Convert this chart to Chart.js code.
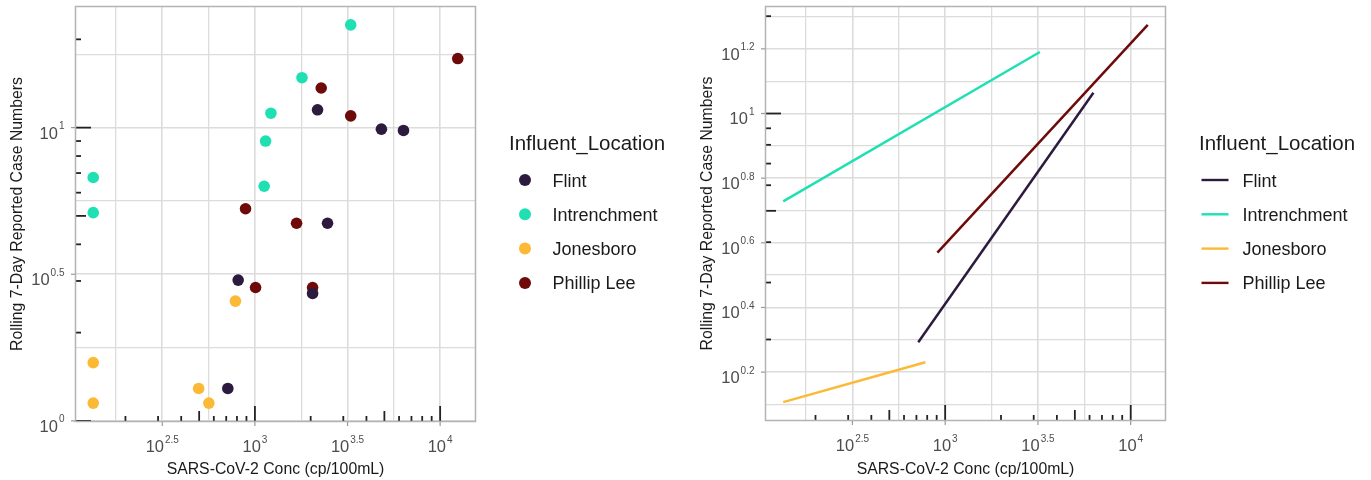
<!DOCTYPE html>
<html>
<head>
<meta charset="utf-8">
<script src="https://cdn.jsdelivr.net/npm/chart.js@4.4.1/dist/chart.umd.min.js"></script>
<style>
  html, body { margin: 0; padding: 0; background: #ffffff; }
  #wrap { position: relative; width: 1371px; height: 480px; overflow: hidden; }
  .panel { position: absolute; top: 0; height: 480px; }
  canvas { display: block; }
</style>
</head>
<body>
<div id="wrap">
  <div class="panel" style="left:0;width:685px"><canvas id="scatter" width="685" height="480"></canvas></div>
  <div class="panel" style="left:685px;width:686px"><canvas id="fits" width="686" height="480"></canvas></div>
</div>
<script>
// ---- data -------------------------------------------------------------
const locations = ['Flint', 'Intrenchment', 'Jonesboro', 'Phillip Lee'];
const locationColors = ['#2d1b3f', '#1fe0b3', '#fcb935', '#6e0a0a'];

// SARS-CoV-2 concentration (cp/100mL) and rolling 7-day case numbers per site
const flintConc = [714, 812, 2048, 2178, 2466, 4818, 6340];
const flintCases = [1.29, 3.02, 2.72, 11.5, 4.72, 9.88, 9.78];
const intrenchmentConc = [134, 134, 1122, 1142, 1220, 1795, 3290];
const intrenchmentCases = [6.76, 5.13, 6.31, 9.0, 11.2, 14.8, 22.4];
const jonesboroConc = [134, 134, 497, 564, 785];
const jonesboroCases = [1.58, 1.15, 1.29, 1.15, 2.56];
const phillipLeeConc = [890, 1008, 1678, 2048, 2280, 3290, 12450];
const phillipLeeCases = [5.29, 2.85, 4.72, 2.85, 13.65, 10.97, 17.2];

// fitted log-log trend per site: start and end of each fitted line
const flintFitConc = [716, 6295];
const flintFitCases = [1.96, 11.6];
const intrenchmentFitConc = [134, 3240];
const intrenchmentFitCases = [5.35, 15.5];
const jonesboroFitConc = [134, 782];
const jonesboroFitCases = [1.28, 1.70];
const phillipLeeFitConc = [908, 12360];
const phillipLeeFitCases = [3.71, 18.8];

// axis label exponents (10^e) and gridline exponents
const xLabelExps = [2.5, 3, 3.5, 4];
const xGridExps = [2.25, 2.5, 2.75, 3, 3.25, 3.5, 3.75, 4];
const yLabelExpsScatter = [0, 0.5, 1];
const yGridExpsScatter = [0, 0.25, 0.5, 0.75, 1, 1.25];
const yLabelExpsFits = [0.2, 0.4, 0.6, 0.8, 1, 1.2];
const yGridExpsFits = [0.1, 0.2, 0.3, 0.4, 0.5, 0.6, 0.7, 0.8, 0.9, 1, 1.1, 1.2, 1.3];

// log tick marks along the bottom and left edges
const logTickDecades = [0, 1, 2, 3, 4];
const logTickMultipliers = [1, 2, 3, 4, 5, 6, 7, 8, 9];

const xTitle = 'SARS-CoV-2 Conc (cp/100mL)';
const yTitle = 'Rolling 7-Day Reported Case Numbers';
const legendTitle = 'Influent_Location';

// ---- helpers ----------------------------------------------------------
const FONT = '"Liberation Sans", Arial, sans-serif';

function pts(xs, ys) { return xs.map((x, i) => ({ x: x, y: ys[i] })); }

// ggplot-style range: data span widened by 5% on each side (log space)
function logLimits(arrays) {
  const logs = [].concat(...arrays).map(v => Math.log10(v));
  const lo = Math.min(...logs), hi = Math.max(...logs);
  const pad = (hi - lo) * 0.05;
  return [Math.pow(10, lo - pad), Math.pow(10, hi + pad)];
}

function logAxis(limits, gridExps, majorExps, horizontal) {
  return {
    type: 'logarithmic',
    min: limits[0],
    max: limits[1],
    afterBuildTicks: (scale) => {
      scale.ticks = gridExps.map(e => ({ value: Math.pow(10, e), major: majorExps.includes(e) }));
    },
    afterFit: (scale) => { if (horizontal) scale.height = 0; else scale.width = 0; },
    ticks: { display: false },
    border: { display: false },
    grid: {
      drawTicks: false,
      color: '#dcdcdc',
      lineWidth: (c) => (c.tick && c.tick.major) ? 1.6 : 1.3
    }
  };
}

function fmtExp(e) { return String(Math.round(e * 10) / 10); }

function drawPower(ctx, x, baseY, supY, exp, align) {
  ctx.font = '16.5px ' + FONT;
  const wb = ctx.measureText('10').width;
  ctx.font = '10px ' + FONT;
  const txt = fmtExp(exp);
  const ws = ctx.measureText(txt).width;
  const total = wb + 1 + ws;
  const x0 = align === 'center' ? x - total / 2 : x - total;
  ctx.textAlign = 'left';
  ctx.textBaseline = 'alphabetic';
  ctx.fillStyle = '#4d4d4d';
  ctx.font = '16.5px ' + FONT;
  ctx.fillText('10', x0, baseY);
  ctx.font = '10px ' + FONT;
  ctx.fillText(txt, x0 + wb + 1, supY);
}

// panel frame, log ticks, axis labels, titles and legend
const panelDecor = {
  id: 'panelDecor',
  afterDraw(chart, args, opts) {
    const ctx = chart.ctx;
    const a = chart.chartArea;
    const xs = chart.scales.x, ys = chart.scales.y;
    ctx.save();

    // log tick marks
    ctx.strokeStyle = '#222222';
    ctx.lineWidth = 1.8;
    for (const d of logTickDecades) {
      for (const m of logTickMultipliers) {
        const v = m * Math.pow(10, d);
        const len = m === 1 ? 16 : (m === 5 ? 11 : 6);
        if (v >= xs.min && v <= xs.max) {
          const px = xs.getPixelForValue(v);
          ctx.beginPath(); ctx.moveTo(px, a.bottom); ctx.lineTo(px, a.bottom - len); ctx.stroke();
        }
        if (v >= ys.min && v <= ys.max) {
          const py = ys.getPixelForValue(v);
          ctx.beginPath(); ctx.moveTo(a.left, py); ctx.lineTo(a.left + len, py); ctx.stroke();
        }
      }
    }

    // panel border
    ctx.strokeStyle = '#b3b3b3';
    ctx.lineWidth = 1.5;
    ctx.strokeRect(a.left + 0.5, a.top + 0.5, a.right - a.left - 1, a.bottom - a.top - 1);

    // axis ticks and labels
    ctx.strokeStyle = '#9a9a9a';
    ctx.lineWidth = 1.2;
    for (const e of xLabelExps) {
      const px = xs.getPixelForValue(Math.pow(10, e));
      ctx.beginPath(); ctx.moveTo(px, a.bottom); ctx.lineTo(px, a.bottom + 4); ctx.stroke();
      drawPower(ctx, px, a.bottom + 30, a.bottom + 21, e, 'center');
    }
    for (const e of opts.yLabels) {
      const py = ys.getPixelForValue(Math.pow(10, e));
      ctx.beginPath(); ctx.moveTo(a.left - 4, py); ctx.lineTo(a.left, py); ctx.stroke();
      drawPower(ctx, a.left - 10.5, py + 11, py + 1.5, e, 'right');
    }

    // axis titles
    ctx.fillStyle = '#1a1a1a';
    ctx.font = '15.8px ' + FONT;
    ctx.textAlign = 'center';
    ctx.textBaseline = 'alphabetic';
    ctx.fillText(xTitle, (a.left + a.right) / 2, 474);
    ctx.save();
    ctx.translate(a.left - 57, (a.top + a.bottom) / 2);
    ctx.rotate(-Math.PI / 2);
    ctx.textBaseline = 'middle';
    ctx.fillText(yTitle, 0, 0);
    ctx.restore();

    // legend
    const lx = a.right;
    ctx.textAlign = 'left';
    ctx.textBaseline = 'alphabetic';
    ctx.fillStyle = '#1a1a1a';
    ctx.font = '20.5px ' + FONT;
    ctx.fillText(legendTitle, lx + 33, 150);
    chart.data.datasets.forEach((ds, i) => {
      const ry = 180 + i * 34.3;
      if (opts.legendKind === 'point') {
        ctx.fillStyle = ds.backgroundColor;
        ctx.beginPath(); ctx.arc(lx + 49, ry, 6, 0, Math.PI * 2); ctx.fill();
      } else {
        ctx.strokeStyle = ds.borderColor;
        ctx.lineWidth = 2.4;
        ctx.beginPath(); ctx.moveTo(lx + 35.5, ry); ctx.lineTo(lx + 62.5, ry); ctx.stroke();
      }
      ctx.fillStyle = '#1a1a1a';
      ctx.font = '18px ' + FONT;
      ctx.fillText(ds.label, lx + 76.5, ry + 6.5);
    });

    ctx.restore();
  }
};

const commonPlugins = { legend: { display: false }, tooltip: { enabled: false } };

// ---- left panel: observations ------------------------------------------
const scatterConc = [flintConc, intrenchmentConc, jonesboroConc, phillipLeeConc];
const scatterCases = [flintCases, intrenchmentCases, jonesboroCases, phillipLeeCases];

new Chart(document.getElementById('scatter'), {
  type: 'scatter',
  data: {
    datasets: locations.map((name, i) => ({
      label: name,
      data: pts(scatterConc[i], scatterCases[i]),
      backgroundColor: locationColors[i],
      borderWidth: 0,
      pointRadius: 5.8
    }))
  },
  options: {
    responsive: false,
    animation: false,
    devicePixelRatio: 1,
    layout: { padding: { left: 75, right: 209, top: 6, bottom: 58 } },
    scales: {
      x: logAxis(logLimits(scatterConc), xGridExps, xLabelExps, true),
      y: logAxis(logLimits(scatterCases), yGridExpsScatter, yLabelExpsScatter, false)
    },
    plugins: Object.assign({}, commonPlugins, {
      panelDecor: { yLabels: yLabelExpsScatter, legendKind: 'point' }
    })
  },
  plugins: [panelDecor]
});

// ---- right panel: fitted trends ----------------------------------------
const fitConc = [flintFitConc, intrenchmentFitConc, jonesboroFitConc, phillipLeeFitConc];
const fitCases = [flintFitCases, intrenchmentFitCases, jonesboroFitCases, phillipLeeFitCases];

new Chart(document.getElementById('fits'), {
  type: 'scatter',
  data: {
    datasets: locations.map((name, i) => ({
      label: name,
      data: pts(fitConc[i], fitCases[i]),
      showLine: true,
      borderColor: locationColors[i],
      backgroundColor: locationColors[i],
      borderWidth: 2.5,
      pointRadius: 0
    }))
  },
  options: {
    responsive: false,
    animation: false,
    devicePixelRatio: 1,
    layout: { padding: { left: 80, right: 205, top: 6, bottom: 59 } },
    scales: {
      x: logAxis(logLimits(fitConc), xGridExps, xLabelExps, true),
      y: logAxis(logLimits(fitCases), yGridExpsFits, yLabelExpsFits, false)
    },
    plugins: Object.assign({}, commonPlugins, {
      panelDecor: { yLabels: yLabelExpsFits, legendKind: 'line' }
    })
  },
  plugins: [panelDecor]
});
</script>
</body>
</html>
